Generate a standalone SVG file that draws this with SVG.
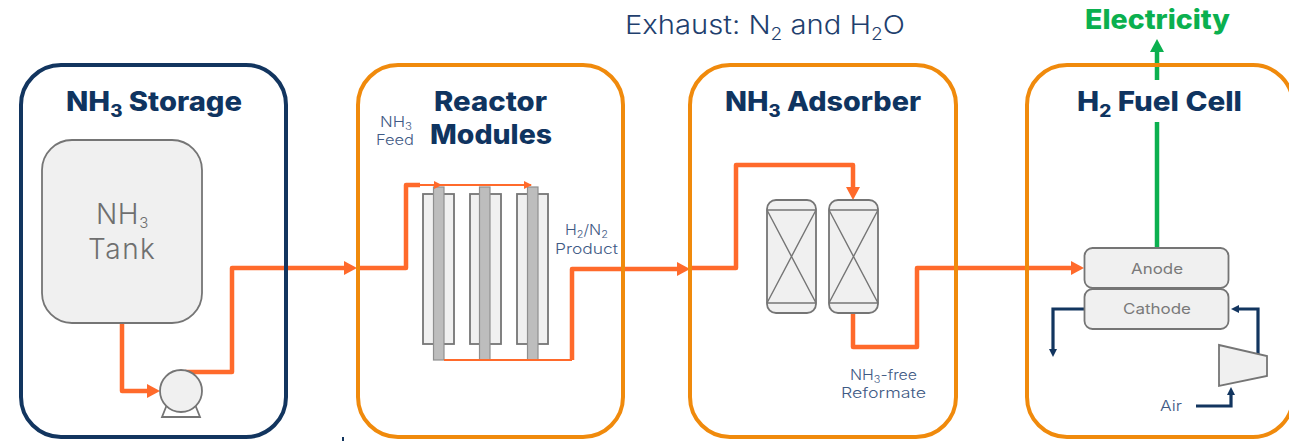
<svg xmlns="http://www.w3.org/2000/svg" width="1289" height="441" viewBox="0 0 1289 441">
<style>
text{font-family:Inter,"Open Sans","Liberation Sans",sans-serif;text-anchor:start}
.title{font-size:26.500px;font-weight:800;fill:#0f3460}
.lab{font-size:14.500px;fill:#3f5a85;font-weight:300}
.gray{fill:#7a7a7a;font-weight:400}
.frame{fill:none;stroke-width:4}
.o{stroke:#f08a0c}
.n{stroke:#12355f}
.eq{fill:#f0f0f0;stroke:#757575;stroke-width:1.8}
.col{fill:#bdbdbd;stroke:#8f8f8f;stroke-width:1.2}
.thin{fill:none;stroke:#757575;stroke-width:1.4}
.fl{fill:none;stroke:#ff6a2b;stroke-width:4.500;stroke-linejoin:round}
.flt{fill:none;stroke:#ff6a2b;stroke-width:1.800}
.air{fill:none;stroke:#12355f;stroke-width:3.200}
.el{fill:none;stroke:#0bb04f;stroke-width:4.500}
</style>
<defs>
<marker id="ao" markerUnits="userSpaceOnUse" markerWidth="14" markerHeight="14" refX="3" refY="7" orient="auto"><path d="M0,0L13,7L0,14Z" fill="#ff6a2b"/></marker>
<marker id="aot" markerUnits="userSpaceOnUse" markerWidth="8" markerHeight="8" refX="7" refY="4" orient="auto"><path d="M0,0L8,4L0,8Z" fill="#ff6a2b"/></marker>
<marker id="an" markerUnits="userSpaceOnUse" markerWidth="8" markerHeight="8" refX="2" refY="4" orient="auto"><path d="M0,0L8,4L0,8Z" fill="#12355f"/></marker>
<marker id="ag" markerUnits="userSpaceOnUse" markerWidth="14" markerHeight="14" refX="3" refY="7" orient="auto"><path d="M0,0L13,7L0,14Z" fill="#0bb04f"/></marker>
</defs>
<rect width="1289" height="441" fill="#fff"/>
<g id="reactor-1">
<rect class="eq" x="423" y="194" width="31" height="150"/>
<rect class="col" x="433.500" y="187" width="10.500" height="173"/>
</g>
<g id="reactor-2">
<rect class="eq" x="470" y="194" width="31" height="150"/>
<rect class="col" x="479.500" y="187" width="10.500" height="173"/>
</g>
<g id="reactor-3">
<rect class="eq" x="517" y="194" width="31" height="150"/>
<rect class="col" x="527.500" y="187" width="10.500" height="173"/>
</g>
<g id="connectors">
<path class="fl" d="M122,323V391H150" marker-end="url(#ao)"/>
<path class="fl" d="M185,372H232V268H347" marker-end="url(#ao)"/>
<path class="fl" d="M360,268H406V185H420"/>
<path class="flt" d="M406,185H441" marker-end="url(#aot)"/>
<path class="flt" d="M441,185H531" marker-end="url(#aot)"/>
<path class="flt" d="M444,360H572"/>
<path class="fl" d="M572,360V269H680" marker-end="url(#ao)"/>
<path class="fl" d="M692,268H736V165H853V190" marker-end="url(#ao)"/>
<path class="fl" d="M853,313V347H917V268H1074" marker-end="url(#ao)"/>
<path class="el" d="M1157,248V122"/>
<path class="el" d="M1157,80V49" marker-end="url(#ag)"/>
<path class="air" d="M1084,309H1053V351" marker-end="url(#an)"/>
<path class="air" d="M1258,354V309H1237" marker-end="url(#an)"/>
<path class="air" d="M1196,406H1231V393" marker-end="url(#an)"/>
<path d="M343,437V441" stroke="#12355f" stroke-width="2" fill="none"/>
</g>
<g id="nh3-storage">
<rect class="frame n" x="21" y="65" width="265" height="372" rx="40"/>
<text class="title" x="66" y="111" textLength="176" lengthAdjust="spacingAndGlyphs">NH<tspan font-size="17" dy="6">3</tspan><tspan dy="-6"> Storage</tspan></text>
</g>
<g id="nh3-tank">
<rect class="eq" x="42" y="140" width="160" height="183" rx="30"/>
<text font-size="28" font-weight="300" fill="#6f6f6f" letter-spacing="0.6"><tspan x="96" y="224">NH</tspan><tspan font-size="15" dy="4">3</tspan></text>
<text font-size="28" font-weight="300" fill="#6f6f6f" letter-spacing="1.5" x="88" y="259">Tank</text>
</g>
<g id="pump">
<path class="eq" d="M168,402L162,417H200L194,402Z" style="fill:#fff"/>
<circle class="eq" cx="181" cy="391" r="21"/>
</g>
<g id="reactor-modules">
<rect class="frame o" x="358" y="65" width="265" height="372" rx="40"/>
<text class="title" x="434" y="111" textLength="113" lengthAdjust="spacingAndGlyphs">Reactor</text>
<text class="title" x="430" y="144" textLength="122" lengthAdjust="spacingAndGlyphs">Modules</text>
<text class="lab" x="380" y="127" textLength="32" lengthAdjust="spacingAndGlyphs">NH<tspan font-size="10" dy="3">3</tspan></text>
<text class="lab" x="376" y="145" textLength="38" lengthAdjust="spacingAndGlyphs">Feed</text>
<text class="lab" x="565" y="235" textLength="43" lengthAdjust="spacingAndGlyphs">H<tspan font-size="10" dy="3">2</tspan><tspan dy="-3">/N</tspan><tspan font-size="10" dy="3">2</tspan></text>
<text class="lab" x="555" y="254" textLength="63" lengthAdjust="spacingAndGlyphs">Product</text>
</g>
<g id="nh3-adsorber">
<rect class="frame o" x="690" y="65" width="266" height="372" rx="40"/>
<text class="title" x="725" y="111" textLength="196" lengthAdjust="spacingAndGlyphs">NH<tspan font-size="17" dy="6">3</tspan><tspan dy="-6"> Adsorber</tspan></text>
<text class="lab" x="850" y="380" textLength="67" lengthAdjust="spacingAndGlyphs">NH<tspan font-size="10" dy="3">3</tspan><tspan dy="-3">-free</tspan></text>
<text class="lab" x="841" y="398" textLength="85" lengthAdjust="spacingAndGlyphs">Reformate</text>
</g>
<g id="adsorber-1">
<rect class="eq" x="767" y="200" width="49" height="113" rx="9"/>
<path class="thin" d="M767,210H816M767,303H816M767,210L816,303M816,210L767,303"/>
</g>
<g id="adsorber-2">
<rect class="eq" x="829" y="200" width="49" height="113" rx="9"/>
<path class="thin" d="M829,210H878M829,303H878M829,210L878,303M878,210L829,303"/>
</g>
<g id="fuel-cell">
<rect class="frame o" x="1027" y="65" width="266" height="372" rx="40"/>
<text class="title" x="1077" y="111" textLength="165" lengthAdjust="spacingAndGlyphs">H<tspan font-size="17" dy="6">2</tspan><tspan dy="-6"> Fuel Cell</tspan></text>
<text class="lab" x="1160" y="411" textLength="22" lengthAdjust="spacingAndGlyphs">Air</text>
</g>
<g id="anode">
<rect class="eq" x="1084.500" y="248" width="144" height="40" rx="8"/>
<text class="lab gray" x="1131" y="274" textLength="52" lengthAdjust="spacingAndGlyphs">Anode</text>
</g>
<g id="cathode">
<rect class="eq" x="1084.500" y="289" width="144" height="40" rx="8"/>
<text class="lab gray" x="1123" y="314" textLength="68" lengthAdjust="spacingAndGlyphs">Cathode</text>
</g>
<g id="compressor">
<path class="eq" d="M1219,345L1267,356V376L1219,386Z"/>
</g>
<g id="electricity">
<text x="1085" y="29" font-size="26.500" font-weight="800" fill="#0bb04f" textLength="145" lengthAdjust="spacingAndGlyphs">Electricity</text>
</g>
<g id="exhaust">
<text x="625" y="34" font-size="26" font-weight="300" fill="#1f3f6e" textLength="280" lengthAdjust="spacingAndGlyphs">Exhaust: N<tspan font-size="17" dy="6">2</tspan><tspan dy="-6"> and H</tspan><tspan font-size="17" dy="6">2</tspan><tspan dy="-6">O</tspan></text>
</g>
</svg>
